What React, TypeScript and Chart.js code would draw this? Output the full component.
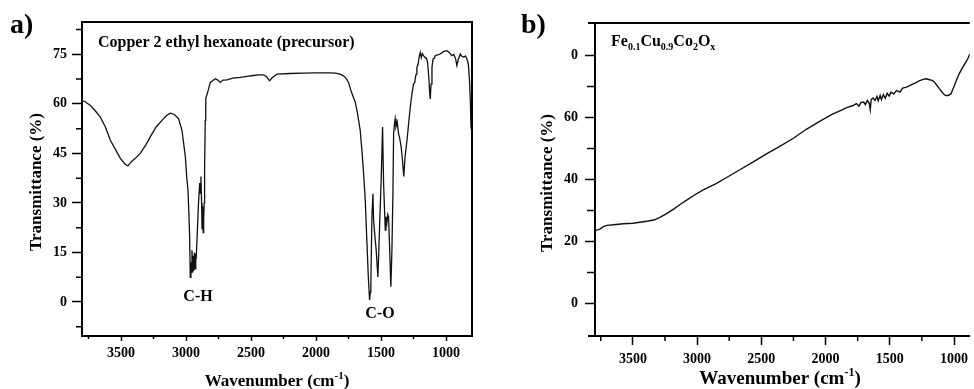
import React, { useEffect, useRef } from "react";
import { Chart, registerables } from "chart.js";
Chart.register(...registerables);

const FONT = "'Liberation Serif', 'Times New Roman', serif";

// Panel a: Copper 2 ethyl hexanoate (precursor)
const WN_A = [3800, 3780, 3760, 3735, 3700, 3659, 3620, 3582, 3540, 3505, 3470, 3447, 3420, 3390, 3352, 3310, 3275, 3230, 3185, 3150, 3121, 3090, 3057, 3031, 3005, 2995, 2985, 2978, 2972, 2967, 2962, 2958, 2954, 2948, 2944, 2940, 2935, 2930, 2925, 2921, 2912, 2905, 2895, 2890, 2885, 2880, 2877, 2872, 2868, 2864, 2860, 2857, 2852, 2848, 2830, 2813, 2795, 2775, 2755, 2737, 2715, 2685, 2640, 2583, 2530, 2482, 2440, 2403, 2380, 2357, 2335, 2300, 2200, 2100, 2000, 1900, 1850, 1815, 1790, 1770, 1750, 1727, 1698, 1680, 1660, 1645, 1634, 1621, 1608, 1598, 1588, 1582, 1578, 1570, 1562, 1557, 1547, 1537, 1524, 1518, 1511, 1498, 1488, 1480, 1473, 1467, 1462, 1455, 1448, 1442, 1435, 1429, 1424, 1416, 1408, 1403, 1396, 1391, 1385, 1375, 1365, 1358, 1345, 1335, 1325, 1315, 1300, 1285, 1275, 1262, 1250, 1240, 1237, 1230, 1224, 1215, 1205, 1198, 1190, 1182, 1173, 1160, 1150, 1142, 1132, 1125, 1121, 1115, 1108, 1100, 1090, 1083, 1070, 1045, 1020, 993, 975, 955, 940, 925, 916, 905, 890, 880, 865, 850, 839, 828, 819, 812, 808, 803];
const T_A = [61, 60.8, 60.2, 59.5, 58, 56, 53, 49, 46, 43.5, 41.8, 41.2, 42.5, 43.5, 45, 47.5, 50, 53, 55, 56.5, 57.2, 56.8, 55.5, 52, 44, 38, 34, 27, 19.7, 7.5, 12, 9, 15.7, 9, 14, 9.5, 15, 10, 14, 13.7, 22, 29, 36, 33, 38, 30, 22, 29, 21, 25, 30, 40, 55, 61.6, 64, 66.5, 67, 67.6, 67.2, 66.5, 67.2, 67.3, 67.8, 68, 68.3, 68.6, 68.8, 68.8, 68.2, 67, 68, 69, 69.2, 69.3, 69.4, 69.4, 69.3, 69, 68.5, 67.8, 66.5, 63.5, 60.5, 57, 52, 45, 38.9, 30.8, 17.7, 8, 0.6, 3, 5.6, 25.8, 32.8, 24.8, 20, 15.7, 7.6, 14, 22.7, 37.9, 53, 35.8, 28, 21.8, 25.8, 24, 26.5, 25.8, 18, 10.7, 4.6, 15.7, 33.8, 51, 54, 55.5, 53, 54.5, 51, 50, 47, 43, 38, 44, 49, 55, 59, 63, 66, 66.5, 67.6, 69, 71, 72, 74.5, 75.6, 74, 75.2, 74.6, 74, 73.8, 72.6, 68, 63, 61.5, 66, 71, 73.6, 73.8, 74.6, 74.8, 75.1, 75.8, 76.1, 75.6, 74.6, 75, 73.5, 71.6, 73.5, 75.1, 74.5, 74.1, 74.5, 73.6, 72, 67, 60, 53, 52];

// Panel b: Fe0.1Cu0.9Co2Ox
const WN_B = [3792, 3770, 3754, 3730, 3702, 3650, 3575, 3500, 3446, 3380, 3331, 3290, 3241, 3180, 3130, 3087, 3020, 2959, 2900, 2856, 2780, 2677, 2550, 2450, 2370, 2250, 2150, 2036, 1950, 1880, 1831, 1790, 1760, 1740, 1725, 1703, 1690, 1675, 1660, 1652, 1645, 1630, 1615, 1600, 1590, 1575, 1565, 1550, 1535, 1520, 1505, 1490, 1470, 1447, 1420, 1400, 1370, 1330, 1300, 1267, 1240, 1216, 1190, 1170, 1152, 1135, 1114, 1090, 1070, 1062, 1045, 1024, 1000, 980, 960, 935, 909, 890, 877];
const T_B = [23.5, 23.8, 24.1, 24.8, 25.2, 25.4, 25.7, 25.9, 26.2, 26.6, 27, 27.8, 28.9, 30.5, 32, 33.2, 35, 36.5, 37.7, 38.6, 40.4, 42.9, 46, 48.5, 50.4, 53.3, 56.2, 59, 61, 62.3, 63.3, 63.8, 64.5, 63.7, 64.8, 65, 64.2, 65.5, 64.6, 62.5, 65.8, 66.3, 65.5, 66.8, 65.4, 67.1, 65.8, 67.4, 66.2, 67.8, 66.9, 68.2, 67.6, 68.7, 68.2, 69.5, 69.8, 70.6, 71.2, 71.9, 72.3, 72.5, 72.2, 72, 71.4, 70.5, 69.3, 68, 67.2, 67.1, 67.1, 67.6, 70, 72.2, 74.1, 76, 77.8, 79.2, 80.5];

const X_TICKS = [3500, 3000, 2500, 2000, 1500, 1000];
const X_MINOR = [3750, 3250, 2750, 2250, 1750, 1250];
const Y_TICKS_A = [0, 15, 30, 45, 60, 75];
const Y_MINOR_A = [-7.5, 7.5, 22.5, 37.5, 52.5, 67.5, 82.5];
const Y_TICKS_B = [0, 20, 40, 60, 80];
const Y_TICK_LABELS_B = ["0", "20", "40", "60", "0"];
const Y_MINOR_B = [10, 30, 50, 70];

type Part = { t: string; size: number; dy?: number };

function drawRich(ctx: CanvasRenderingContext2D, parts: Part[], x: number, y: number, align: "left" | "center") {
  let total = 0;
  for (const p of parts) {
    ctx.font = `bold ${p.size}px ${FONT}`;
    total += ctx.measureText(p.t).width;
  }
  let cx = align === "center" ? x - total / 2 : x;
  ctx.textAlign = "left";
  ctx.textBaseline = "alphabetic";
  for (const p of parts) {
    ctx.font = `bold ${p.size}px ${FONT}`;
    ctx.fillText(p.t, cx, y + (p.dy || 0));
    cx += ctx.measureText(p.t).width;
  }
}

type Cfg = {
  xMinor: number[];
  yMinor: number[];
  xMinorLen: number;
  yMinorLen: number;
  rightBorder: boolean;
  extendLeft: number;
  texts: { parts: Part[]; x: number; y: number; align: "left" | "center"; rot?: boolean }[];
};

function makePlugin(cfg: Cfg) {
  return {
    id: "frameDecor",
    afterDraw(chart: any) {
      const ctx: CanvasRenderingContext2D = chart.ctx;
      const { left, right, top, bottom } = chart.chartArea;
      const xs = chart.scales.x;
      const ys = chart.scales.y;
      ctx.save();
      ctx.strokeStyle = "#000";
      ctx.lineWidth = 2;
      ctx.beginPath();
      ctx.moveTo(left - cfg.extendLeft, top);
      ctx.lineTo(right, top);
      if (cfg.rightBorder) {
        ctx.lineTo(right, bottom);
      }
      ctx.stroke();
      if (cfg.extendLeft > 0) {
        ctx.beginPath();
        ctx.moveTo(left - cfg.extendLeft, bottom);
        ctx.lineTo(left, bottom);
        ctx.stroke();
      }
      ctx.lineWidth = 1.5;
      ctx.beginPath();
      for (const v of cfg.xMinor) {
        const px = xs.getPixelForValue(v);
        if (px < left || px > right) continue;
        ctx.moveTo(px, bottom);
        ctx.lineTo(px, bottom + cfg.xMinorLen);
      }
      for (const v of cfg.yMinor) {
        const py = ys.getPixelForValue(v);
        if (py < top || py > bottom) continue;
        ctx.moveTo(left, py);
        ctx.lineTo(left - cfg.yMinorLen, py);
      }
      ctx.stroke();
      ctx.fillStyle = "#000";
      for (const t of cfg.texts) {
        if (t.rot) {
          ctx.save();
          ctx.translate(t.x, t.y);
          ctx.rotate(-Math.PI / 2);
          drawRich(ctx, t.parts, 0, 0, "center");
          ctx.restore();
        } else {
          drawRich(ctx, t.parts, t.x, t.y, t.align);
        }
      }
      ctx.restore();
    },
  };
}

function buildChart(
  canvas: HTMLCanvasElement,
  wn: number[],
  tr: number[],
  xMin: number,
  xMax: number,
  yMin: number,
  yMax: number,
  yTicks: number[],
  yLabels: string[] | null,
  layout: { top: number; right: number; yWidth: number; xHeight: number },
  tickLens: { x: number; y: number },
  pads: { x: number; y: number },
  lineWidth: number,
  cfg: Cfg
) {
  const points = wn.map((w, i) => ({ x: w, y: tr[i] }));
  return new Chart(canvas, {
    type: "line",
    data: {
      datasets: [
        {
          data: points,
          borderColor: "#111",
          borderWidth: lineWidth,
          pointRadius: 0,
          fill: false,
          tension: 0,
        },
      ],
    },
    options: {
      responsive: false,
      animation: false,
      parsing: true,
      layout: { padding: { top: layout.top, right: layout.right, left: 0, bottom: 0 } },
      plugins: { legend: { display: false }, tooltip: { enabled: false }, title: { display: false } },
      scales: {
        x: {
          type: "linear",
          reverse: true,
          min: xMin,
          max: xMax,
          afterBuildTicks: (s: any) => {
            s.ticks = X_TICKS.map((v) => ({ value: v }));
          },
          afterFit: (s: any) => {
            s.height = layout.xHeight;
          },
          ticks: {
            autoSkip: false,
            maxRotation: 0,
            padding: pads.x,
            color: "#000",
            font: { family: FONT, size: 14, weight: "bold" },
            callback: (v: any) => String(v),
          },
          grid: { display: true, drawOnChartArea: false, drawTicks: true, tickLength: tickLens.x, tickWidth: 1.5, tickColor: "#000" },
          border: { display: true, color: "#000", width: 2 },
        },
        y: {
          type: "linear",
          min: yMin,
          max: yMax,
          afterBuildTicks: (s: any) => {
            s.ticks = yTicks.map((v) => ({ value: v }));
          },
          afterFit: (s: any) => {
            s.width = layout.yWidth;
          },
          ticks: {
            autoSkip: false,
            padding: pads.y,
            color: "#000",
            font: { family: FONT, size: 14, weight: "bold" },
            callback: (v: any) => {
              const i = yTicks.indexOf(Number(v));
              return yLabels && i >= 0 ? yLabels[i] : String(v);
            },
          },
          grid: { display: true, drawOnChartArea: false, drawTicks: true, tickLength: tickLens.y, tickWidth: 1.5, tickColor: "#000" },
          border: { display: true, color: "#000", width: 2 },
        },
      },
    } as any,
    plugins: [makePlugin(cfg)],
  });
}

export default function App() {
  const refA = useRef<HTMLCanvasElement>(null);
  const refB = useRef<HTMLCanvasElement>(null);

  useEffect(() => {
    const chartA = buildChart(
      refA.current!,
      WN_A,
      T_A,
      800,
      3800,
      -10.3,
      84.8,
      Y_TICKS_A,
      null,
      { top: 22, right: 18, yWidth: 82, xHeight: 53 },
      { x: 5, y: 10 },
      { x: 4, y: 5 },
      1.3,
      {
        xMinor: X_MINOR,
        yMinor: Y_MINOR_A,
        xMinorLen: 3,
        yMinorLen: 6,
        rightBorder: true,
        extendLeft: 0,
        texts: [
          { parts: [{ t: "a)", size: 28 }], x: 10, y: 33, align: "left" },
          { parts: [{ t: "Copper 2 ethyl hexanoate (precursor)", size: 16 }], x: 98, y: 46.5, align: "left" },
          { parts: [{ t: "C-H", size: 16 }], x: 198, y: 301, align: "center" },
          { parts: [{ t: "C-O", size: 16 }], x: 380, y: 318, align: "center" },
          { parts: [{ t: "Transmittance (%)", size: 17 }], x: 41, y: 182, align: "center", rot: true },
          {
            parts: [
              { t: "Wavenumber (cm", size: 17 },
              { t: "-1", size: 11, dy: -7 },
              { t: ")", size: 17 },
            ],
            x: 277,
            y: 386,
            align: "center",
          },
        ],
      }
    );
    const chartB = buildChart(
      refB.current!,
      WN_B,
      T_B,
      877,
      3795,
      -10.5,
      90.5,
      Y_TICKS_B,
      Y_TICK_LABELS_B,
      { top: 23, right: 0, yWidth: 105, xHeight: 53 },
      { x: 9, y: 10 },
      { x: 6, y: 7 },
      1.4,
      {
        xMinor: X_MINOR,
        yMinor: Y_MINOR_B,
        xMinorLen: 5,
        yMinorLen: 8,
        rightBorder: false,
        extendLeft: 7,
        texts: [
          { parts: [{ t: "b)", size: 28 }], x: 31, y: 33, align: "left" },
          {
            parts: [
              { t: "Fe", size: 16 },
              { t: "0.1", size: 10, dy: 4 },
              { t: "Cu", size: 16 },
              { t: "0.9", size: 10, dy: 4 },
              { t: "Co", size: 16 },
              { t: "2", size: 10, dy: 4 },
              { t: "O", size: 16 },
              { t: "x", size: 10, dy: 4 },
            ],
            x: 121,
            y: 46,
            align: "left",
          },
          { parts: [{ t: "Transmittance (%)", size: 17 }], x: 62, y: 183, align: "center", rot: true },
          {
            parts: [
              { t: "Wavenumber (cm", size: 19 },
              { t: "-1", size: 12, dy: -8 },
              { t: ")", size: 19 },
            ],
            x: 290,
            y: 384,
            align: "center",
          },
        ],
      }
    );
    return () => {
      chartA.destroy();
      chartB.destroy();
    };
  }, []);

  return (
    <div style={{ position: "fixed", left: 0, top: 0, width: 974, height: 389, background: "#fff", overflow: "hidden" }}>
      <canvas ref={refA} width={490} height={389} style={{ position: "absolute", left: 0, top: 0, width: 490, height: 389 }} />
      <canvas ref={refB} width={484} height={389} style={{ position: "absolute", left: 490, top: 0, width: 484, height: 389 }} />
    </div>
  );
}
